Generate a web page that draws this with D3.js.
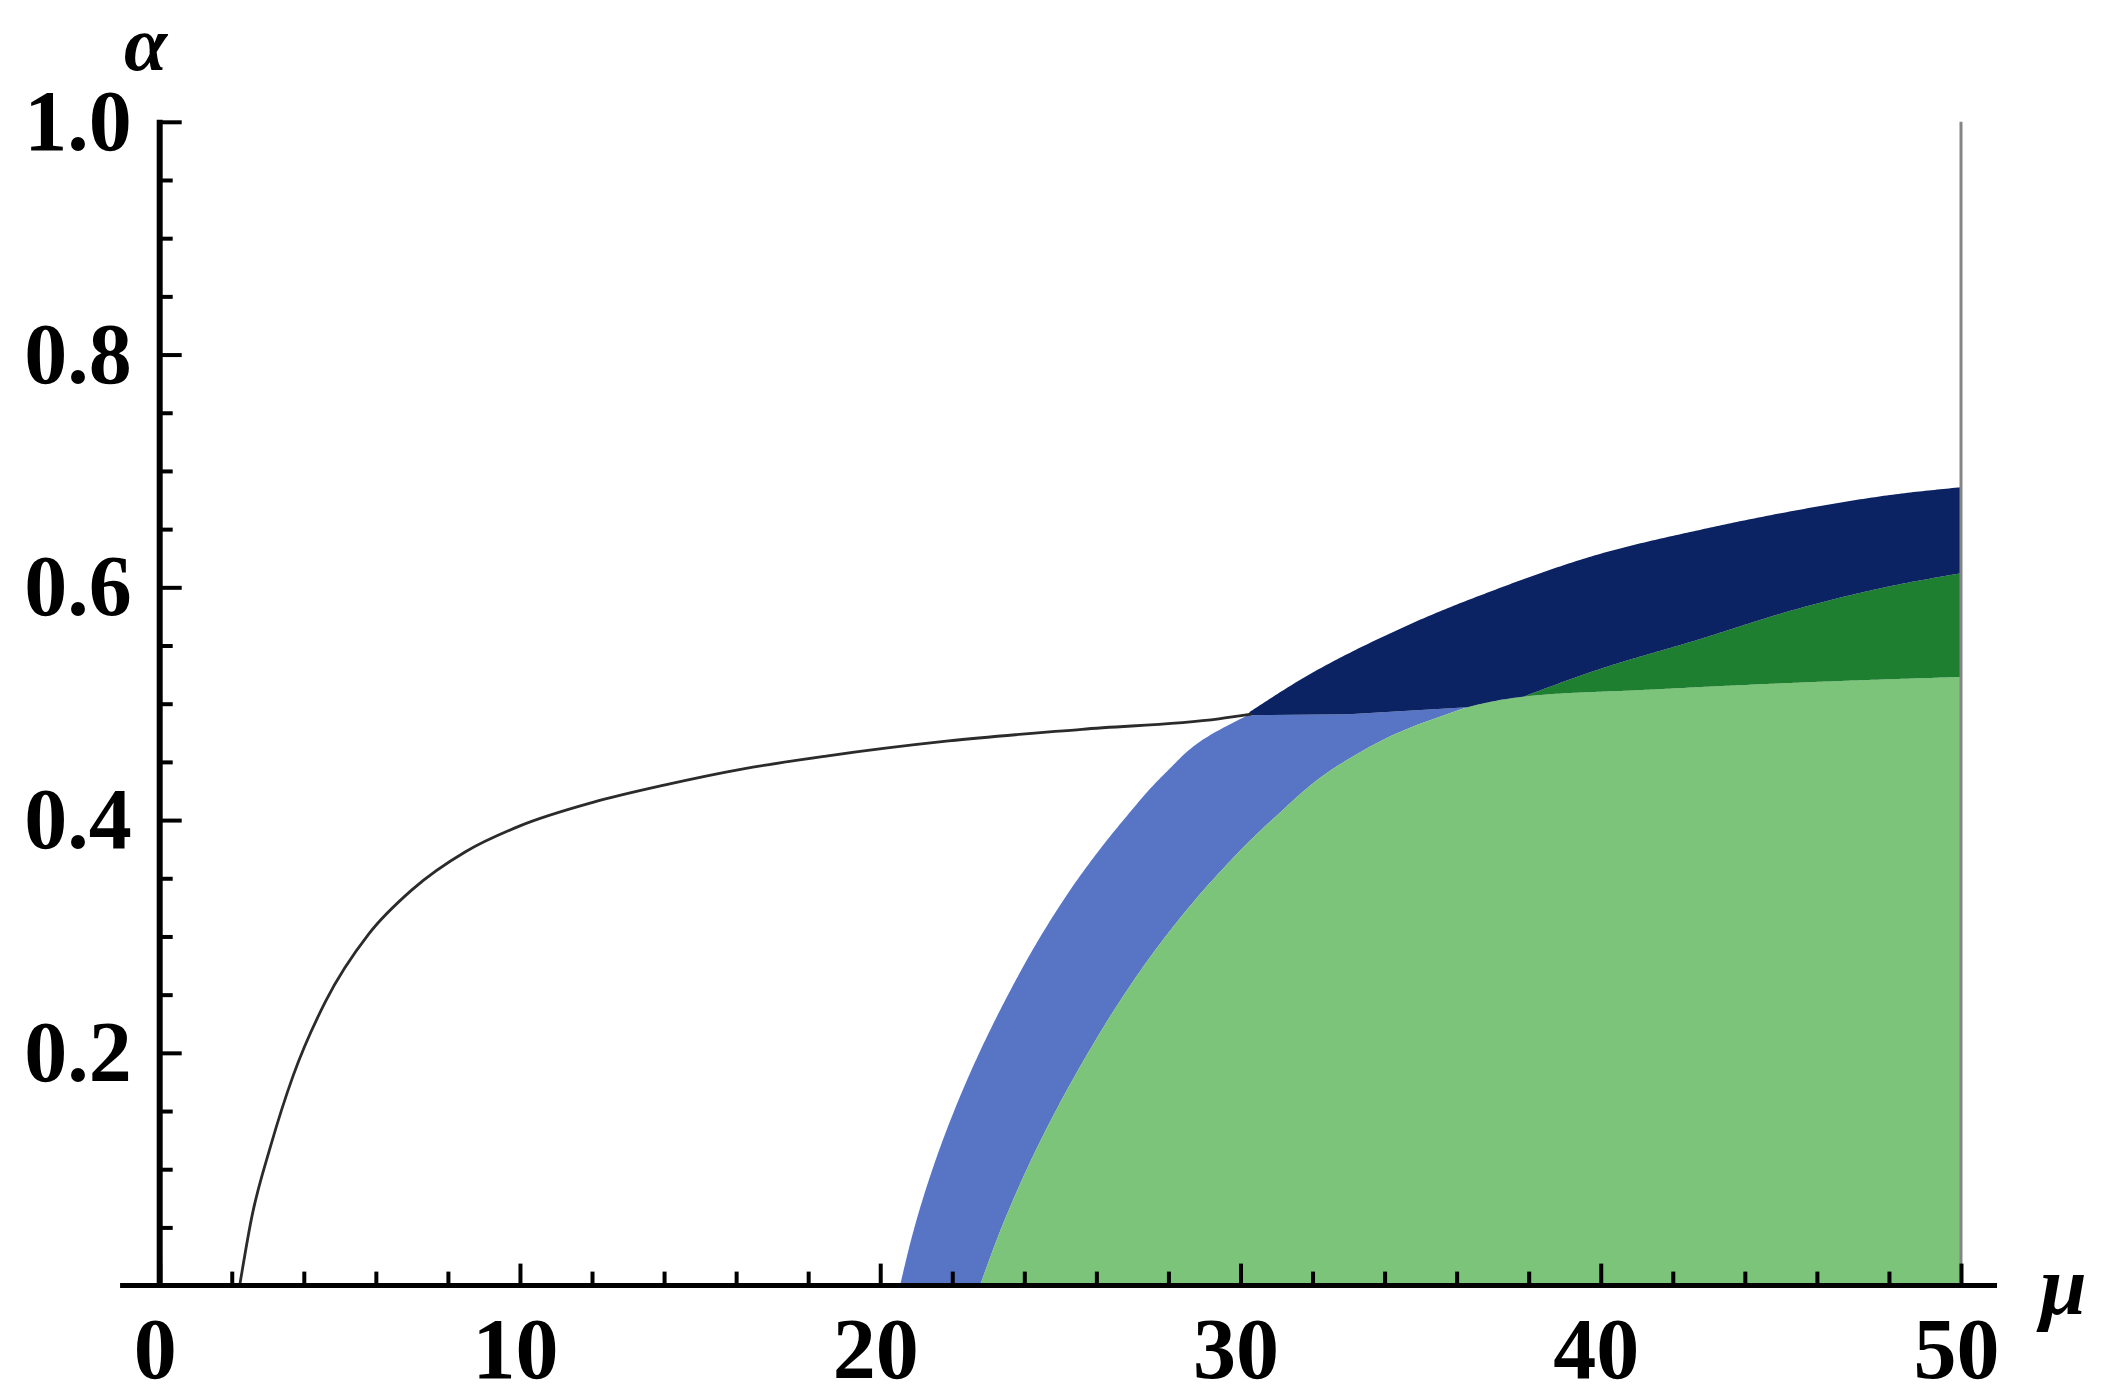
<!DOCTYPE html>
<html>
<head>
<meta charset="utf-8">
<script src="https://cdn.jsdelivr.net/npm/d3@7"></script>
<style>
  html, body { margin: 0; padding: 0; background: #ffffff; }
  svg { display: block; }
</style>
</head>
<body>
<script>
// ---------- data (mu, alpha) ----------
const curveMu    = [2.22, 2.55, 3.08, 3.7, 4.6, 5.8, 7.0, 8.5, 10.0, 12.0, 14.0, 16.2, 18.5, 21.9, 25.6, 29.4, 30.3];
const curveAlpha = [0, 0.058, 0.12, 0.18, 0.244, 0.302, 0.34, 0.373, 0.395, 0.415, 0.43, 0.444, 0.455, 0.468, 0.478, 0.487, 0.491];

const outerArcMu    = [20.55, 20.95, 21.45, 22.05, 22.75, 23.55, 24.45, 25.5, 26.75, 27.9, 29.0, 30.2];
const outerArcAlpha = [0, 0.05, 0.1, 0.15, 0.2, 0.25, 0.3, 0.35, 0.4, 0.44, 0.47, 0.49];

const lightBlueTopMu    = [30.2, 33.0, 36.3];
const lightBlueTopAlpha = [0.49, 0.491, 0.497];

const innerArcMu    = [22.77, 23.37, 24.07, 24.87, 25.77, 26.77, 27.92, 29.27, 30.87, 32.87, 34.6, 36.3];
const innerArcAlpha = [0, 0.05, 0.1, 0.15, 0.2, 0.25, 0.3, 0.35, 0.4, 0.45, 0.478, 0.497];

const lightGreenTopMu    = [36.3, 37.0, 37.85, 41.3, 45.4, 50];
const lightGreenTopAlpha = [0.497, 0.502, 0.506, 0.512, 0.518, 0.523];

const darkGreenTopMu    = [37.85, 39.9, 42.7, 45.4, 48.2, 50];
const darkGreenTopAlpha = [0.506, 0.529, 0.555, 0.581, 0.602, 0.612];

const navyTopMu    = [30.26, 31.63, 34.4, 37.16, 39.9, 42.7, 45.4, 48.2, 50];
const navyTopAlpha = [0.493, 0.52, 0.564, 0.599, 0.628, 0.649, 0.666, 0.68, 0.686];

const xMajorTicks = [0, 10, 20, 30, 40, 50];
const xMinorTicks = [2, 4, 6, 8, 12, 14, 16, 18, 22, 24, 26, 28, 32, 34, 36, 38, 42, 44, 46, 48];
const yMajorTicks = [0.2, 0.4, 0.6, 0.8, 1.0];
const yMinorTicks = [0.05, 0.1, 0.15, 0.25, 0.3, 0.35, 0.45, 0.5, 0.55, 0.65, 0.7, 0.75, 0.85, 0.9, 0.95];
const xTickLabels = ["0", "10", "20", "30", "40", "50"];
const yTickLabels = ["0.2", "0.4", "0.6", "0.8", "1.0"];

const colors = {
  lightBlue: "#5874c4",
  lightGreen: "#7bc47a",
  darkGreen: "#1f7f31",
  navy: "#0b2363"
};

// ---------- layout ----------
const W = 2122, H = 1397;
const x = d3.scaleLinear().domain([0, 50]).range([159.7, 1961]);
const y = d3.scaleLinear().domain([0, 1]).range([1285.6, 121.8]);

const svg = d3.select("body").append("svg")
  .attr("width", W).attr("height", H)
  .style("background", "#fff");

const zip = (ms, as) => ms.map((m, i) => [m, as[i]]);
const rev = a => a.slice().reverse();

const outer = zip(outerArcMu, outerArcAlpha);
const inner = zip(innerArcMu, innerArcAlpha);
const lbTop = zip(lightBlueTopMu, lightBlueTopAlpha);
const lgTop = zip(lightGreenTopMu, lightGreenTopAlpha);
const dgTop = zip(darkGreenTopMu, darkGreenTopAlpha);
const nvTop = zip(navyTopMu, navyTopAlpha);

const poly = d3.line().x(d => x(d[0])).y(d => y(d[1])).curve(d3.curveLinear);
const smoothX = d3.line().x(d => x(d[0])).y(d => y(d[1])).curve(d3.curveMonotoneX);
const smoothY = d3.line().x(d => x(d[0])).y(d => y(d[1])).curve(d3.curveMonotoneY);

// sample a smooth boundary into dense points (data units)
function sampled(pts, gen) {
  const p = svg.append("path").attr("d", gen(pts)).attr("fill", "none").attr("stroke", "none");
  const node = p.node();
  const L = node.getTotalLength();
  const n = Math.max(2, Math.ceil(L / 3));
  const out = [];
  for (let i = 0; i <= n; i++) {
    const q = node.getPointAtLength(L * i / n);
    out.push([x.invert(q.x), y.invert(q.y)]);
  }
  p.remove();
  return out;
}

const outerS = sampled(outer, smoothY);
const innerS = sampled(inner, smoothY);
const lgTopS = sampled(lgTop, smoothX);
const dgTopS = sampled(dgTop, smoothX);
const nvTopS = sampled(nvTop, smoothX);

const regions = svg.append("g").attr("class", "regions");

// light blue band
regions.append("path")
  .attr("d", poly([...outerS, ...lbTop.slice(1), ...rev(innerS)]) + "Z")
  .attr("fill", colors.lightBlue);

// light green region
regions.append("path")
  .attr("d", poly([...innerS, ...lgTopS.slice(1), [50, 0]]) + "Z")
  .attr("fill", colors.lightGreen);

// dark green wedge
const lgFrom = lgTopS.filter(d => d[0] >= 37.85);
regions.append("path")
  .attr("d", poly([...lgFrom, ...rev(dgTopS)]) + "Z")
  .attr("fill", colors.darkGreen);

// navy band
const lgBefore = lgTopS.filter(d => d[0] <= 37.85);
regions.append("path")
  .attr("d", poly([...nvTopS, ...rev(dgTopS), ...rev(lgBefore), ...rev(lbTop)]) + "Z")
  .attr("fill", colors.navy);

// right boundary line at mu = 50
svg.append("line")
  .attr("x1", x(50)).attr("x2", x(50))
  .attr("y1", y(1.0)).attr("y2", y(0))
  .attr("stroke", "#858585").attr("stroke-width", 3);

// thin curve
svg.append("path")
  .attr("d", smoothX(zip(curveMu, curveAlpha)))
  .attr("fill", "none")
  .attr("stroke", "#2b2b2b")
  .attr("stroke-width", 2.8);

// ---------- axes ----------
const font = "'Liberation Serif', 'Times New Roman', serif";

const gx = svg.append("g").attr("transform", `translate(0,${y(0)})`);
gx.call(d3.axisBottom(x).tickValues(xMinorTicks).tickSizeInner(-14).tickSizeOuter(0).tickFormat(""));
gx.append("g").call(d3.axisBottom(x).tickValues(xMajorTicks).tickSizeInner(-22).tickSizeOuter(0)
  .tickPadding(31).tickFormat((d, i) => xTickLabels[i]));
gx.selectAll(".domain").remove();
gx.selectAll("line").attr("stroke", "#000").attr("stroke-width", 4);
gx.selectAll("text")
  .attr("font-family", font).attr("font-weight", "bold").attr("font-size", 86)
  .attr("fill", "#000").attr("dx", -5);
gx.append("line")
  .attr("x1", x(-1.1)).attr("x2", x(51.0))
  .attr("y1", 0).attr("y2", 0)
  .attr("stroke", "#000").attr("stroke-width", 5);

const gy = svg.append("g").attr("transform", `translate(${x(0)},0)`);
gy.call(d3.axisLeft(y).tickValues(yMinorTicks).tickSizeInner(-13).tickSizeOuter(0).tickFormat(""));
gy.append("g").call(d3.axisLeft(y).tickValues(yMajorTicks).tickSizeInner(-22).tickSizeOuter(0)
  .tickPadding(28).tickFormat((d, i) => yTickLabels[i]));
gy.selectAll(".domain").remove();
gy.selectAll("line").attr("stroke", "#000").attr("stroke-width", 4);
gy.selectAll("text")
  .attr("font-family", font).attr("font-weight", "bold").attr("font-size", 86)
  .attr("fill", "#000");
gy.append("line")
  .attr("x1", 0).attr("x2", 0)
  .attr("y1", y(0) + 2).attr("y2", y(1.0) - 2)
  .attr("stroke", "#000").attr("stroke-width", 6);

// axis labels
svg.append("text")
  .attr("x", 124).attr("y", 70)
  .attr("font-family", font).attr("font-style", "italic").attr("font-weight", "bold")
  .attr("font-size", 78).attr("fill", "#000")
  .text("α");
svg.append("text")
  .attr("x", 2040).attr("y", 1314)
  .attr("font-family", font).attr("font-style", "italic").attr("font-weight", "bold")
  .attr("font-size", 84).attr("fill", "#000")
  .text("μ");
</script>
</body>
</html>
